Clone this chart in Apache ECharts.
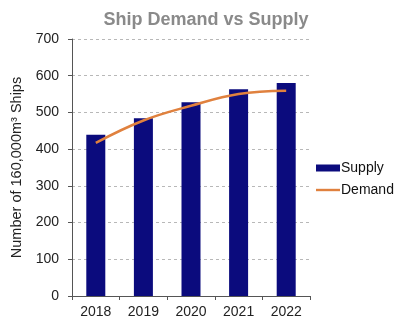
<!DOCTYPE html>
<html><head><meta charset="utf-8">
<script src="https://cdn.jsdelivr.net/npm/echarts@6/dist/echarts.min.js"></script>
<style>html,body{margin:0;padding:0;background:#fff}#c{width:400px;height:332px}</style>
</head><body><div id="c"></div>
<script>
var categories = ['2018', '2019', '2020', '2021', '2022'];
var supply = [439, 484, 528, 563, 580];
var demand = [417, 478, 518, 550, 559];
var yTicks = [0, 100, 200, 300, 400, 500, 600, 700];

var chart = echarts.init(document.getElementById('c'), null, {renderer: 'canvas'});
chart.setOption({
  animation: false,
  backgroundColor: '#ffffff',
  title: {
    text: 'Ship Demand vs Supply', left: 201, top: 6, textAlign: 'center',
    textStyle: {fontFamily: 'Liberation Sans, Arial', fontSize: 18, fontWeight: 'bold', color: '#8a8a8a'}
  },
  grid: {left: 72, right: 90, top: 39, bottom: 36},
  legend: {
    orient: 'vertical', left: 311, top: 156, itemWidth: 24, itemHeight: 7, itemGap: 8,
    textStyle: {fontFamily: 'Liberation Sans, Arial', fontSize: 14, color: '#111', padding: [0, 0, 0, -4]},
    data: [{name: 'Supply', icon: 'rect'}, {name: 'Demand', icon: 'path://M0,0 L10,0 L10,1 L0,1 Z'}]
  },
  xAxis: {
    type: 'category', data: categories,
    axisLine: {lineStyle: {color: '#555', width: 1}},
    axisTick: {show: true, length: 4, inside: false, lineStyle: {color: '#555'}},
    axisLabel: {fontFamily: 'Liberation Sans, Arial', fontSize: 14, color: '#222', margin: 9}
  },
  yAxis: {
    type: 'value', min: 0, max: 700, interval: 100,
    name: 'Number of 160,000m\u00b3 Ships', nameLocation: 'middle', nameGap: 44,
    nameTextStyle: {fontFamily: 'Liberation Sans, Arial', fontSize: 14.5, color: '#222'},
    axisLine: {show: true, lineStyle: {color: '#555', width: 1}},
    axisTick: {show: true, length: 4, lineStyle: {color: '#555'}},
    axisLabel: {fontFamily: 'Liberation Sans, Arial', fontSize: 14, color: '#222', margin: 13,
      formatter: function (v) { return yTicks.indexOf(v) >= 0 ? String(v) : ''; }},
    splitLine: {show: true, lineStyle: {color: '#b8b8b8', type: [3, 3], width: 1}}
  },
  series: [
    {name: 'Supply', type: 'bar', data: supply, barWidth: 19, itemStyle: {color: '#0b0b7d'}},
    {name: 'Demand', type: 'line', data: demand, smooth: 0.4, symbol: 'none',
      lineStyle: {color: '#e0813e', width: 2.5}, itemStyle: {color: '#e0813e'}}
  ]
});
</script></body></html>
